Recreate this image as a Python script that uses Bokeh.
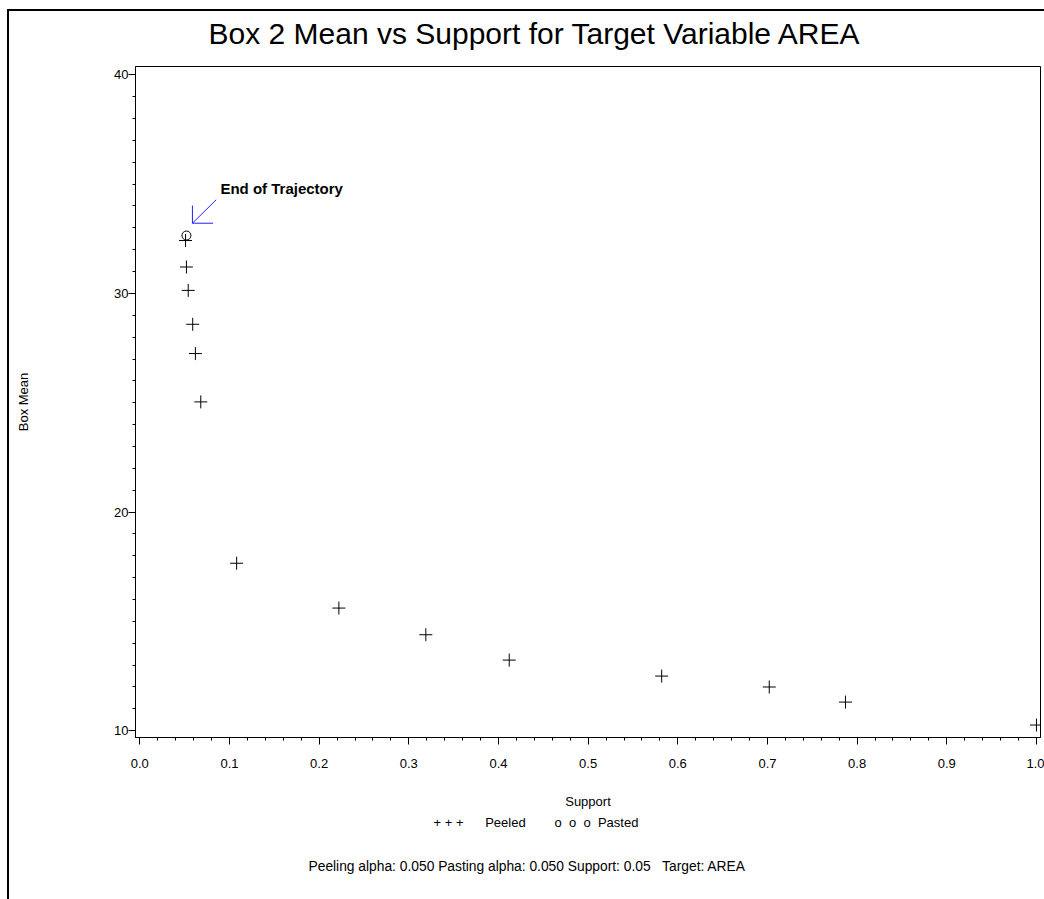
from bokeh.plotting import figure
from bokeh.models import Range1d, FixedTicker, NumeralTickFormatter, Label, Title
from bokeh.embed import file_html
from bokeh.resources import INLINE

# ---- data ----
support_peeled = [0.051, 0.052, 0.054, 0.059, 0.062, 0.068, 0.108, 0.222,
                  0.319, 0.412, 0.582, 0.702, 0.787, 1.0]
mean_peeled = [32.42, 31.21, 30.14, 28.59, 27.25, 25.04, 17.66, 15.61,
               14.39, 13.23, 12.50, 12.00, 11.31, 10.26]
support_pasted = [0.052]
mean_pasted = [32.65]

x_ticks = [0.0, 0.1, 0.2, 0.3, 0.4, 0.5, 0.6, 0.7, 0.8, 0.9, 1.0]
y_ticks = [10, 20, 30, 40]

title_text = "Box 2 Mean vs Support for Target Variable AREA"
x_label = "Support"
y_label = "Box Mean"
legend_peeled = "Peeled"
legend_pasted = "Pasted"
footnote = "Peeling alpha: 0.050 Pasting alpha: 0.050 Support: 0.05   Target: AREA"
annot_text = "End of Trajectory"

FONT = "Liberation Sans"
NB = "\u00a0"

X0, X1 = -0.0048, 1.0045
Y0, Y1 = 9.69, 40.38
FW, FH = 905, 671

p = figure(frame_width=FW, frame_height=FH,
           min_border_left=135, min_border_right=4,
           min_border_top=66, min_border_bottom=150,
           x_range=Range1d(X0, X1), y_range=Range1d(Y0, Y1),
           output_backend="svg", toolbar_location=None,
           background_fill_color="white", border_fill_color=None)
# outer graph border (left and top edges) drawn behind the transparent canvas border
p.styles = {"background": ("linear-gradient(#000,#000) 7px 9px / 2px 100% no-repeat, "
                           "linear-gradient(#000,#000) 7px 9px / 100% 2px no-repeat, #fff")}

p.xgrid.visible = False
p.ygrid.visible = False
p.outline_line_color = "black"
p.outline_line_width = 1

minor_x = [round(i * 0.02, 2) for i in range(0, 51)]
minor_y = list(range(10, 41))
p.xaxis.ticker = FixedTicker(ticks=x_ticks, minor_ticks=minor_x)
p.yaxis.ticker = FixedTicker(ticks=y_ticks, minor_ticks=minor_y)
p.xaxis.formatter = NumeralTickFormatter(format="0.0")

for ax in (p.xaxis, p.yaxis):
    ax.axis_line_color = "black"
    ax.major_tick_line_color = "black"
    ax.minor_tick_line_color = "black"
    ax.major_tick_in = 0
    ax.minor_tick_in = 0
    ax.major_tick_out = 7
    ax.minor_tick_out = 3
    ax.major_label_text_font = FONT
    ax.major_label_text_font_size = "13px"
    ax.major_label_text_color = "black"
    ax.axis_label_text_font = FONT
    ax.axis_label_text_font_size = "13px"
    ax.axis_label_text_font_style = "normal"
    ax.axis_label_text_color = "black"

p.xaxis.axis_label = x_label
p.yaxis.axis_label = y_label
p.xaxis.major_label_standoff = 14
p.xaxis.axis_label_standoff = 23
p.yaxis.major_label_standoff = 0
p.yaxis.axis_label_standoff = 80

# title
p.title.text = title_text
p.title.text_font = FONT
p.title.text_font_size = "30px"
p.title.text_font_style = "normal"
p.title.text_color = "black"
p.title.align = "left"
p.title.offset = 73
p.title.vertical_align = "top"
p.title.standoff = 30

# markers
p.scatter(support_peeled, mean_peeled, marker="cross", size=13,
          line_color="black", line_width=1)
p.scatter(support_pasted, mean_pasted, marker="circle", size=9,
          line_color="black", fill_color=None, line_width=1)

# arrow annotation (offsets in screen pixels converted to data units)
xd = (X1 - X0) / FW
yd = (Y1 - Y0) / FH
ex, ey = support_pasted[-1], mean_pasted[-1]
tip = (ex + 6 * xd, ey + 12.3 * yd)
tail = (ex + 29.7 * xd, ey + 35.7 * yd)
arm_v = (ex + 6 * xd, ey + 30 * yd)
arm_h = (ex + 26.7 * xd, ey + 12.3 * yd)
p.segment(x0=[tail[0], tip[0], tip[0]], y0=[tail[1], tip[1], tip[1]],
          x1=[tip[0], arm_v[0], arm_h[0]], y1=[tip[1], arm_v[1], arm_h[1]],
          line_color="#2020ff", line_width=1)
p.add_layout(Label(x=ex, y=ey, x_offset=34, y_offset=47, text=annot_text,
                   text_font=FONT, text_font_size="15px",
                   text_font_style="bold", text_baseline="middle",
                   text_color="black"))

# SAS-style legend line and footnote below the axis
legend_line = ("+" + NB + "+" + NB + "+" + NB * 6 + legend_peeled + NB * 8 +
               "o" + NB + NB + "o" + NB + NB + "o" + NB * 2 + legend_pasted)
leg = Title(text=legend_line, align="left", offset=298,
            text_font=FONT, text_font_size="13px", text_font_style="normal",
            text_color="black", standoff=2)
p.add_layout(leg, "below")
foot = Title(text=footnote.replace("   ", NB * 3), align="left", offset=173,
             text_font=FONT, text_font_size="13.8px", text_font_style="normal",
             text_color="black", standoff=52)
p.add_layout(foot, "below")

open("out.html", "w").write(file_html(p, INLINE))
